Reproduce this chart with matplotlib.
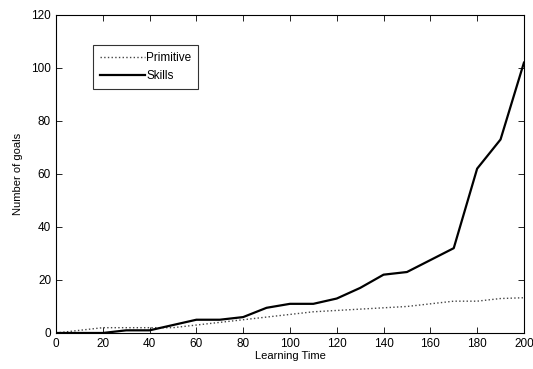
import numpy as np
import matplotlib.pyplot as plt

plt.rcParams['font.family'] = ['Liberation Sans', 'DejaVu Sans']

learning_time = np.arange(0, 201, 10)
primitive = [0, 1, 2, 2, 2, 2, 3, 4, 5, 6, 7, 8, 8.5, 9, 9.5, 10, 11, 12, 12, 13, 13.3]
skills = [0, 0, 0, 1, 1, 3, 5, 5, 6, 9.5, 11, 11, 13, 17, 22, 23, 27.5, 32, 62, 73, 102]

fig = plt.figure(figsize=(5.33, 3.69), dpi=100)
ax = fig.add_axes([0.105, 0.0976, 0.878, 0.862])

ax.plot(learning_time, primitive, linestyle=':', color='#444444', linewidth=1.0, label='Primitive')
ax.plot(learning_time, skills, linestyle='-', color='black', linewidth=1.6, label='Skills')

ax.set_xlim(0, 200)
ax.set_ylim(0, 120)
ax.set_xticks(np.arange(0, 201, 20))
ax.set_yticks(np.arange(0, 121, 20))
ax.tick_params(direction='in', top=True, right=True, labelsize=8.5, length=4, width=0.6)
for s in ax.spines.values():
    s.set_linewidth(0.8)

ax.set_xlabel('Learning Time', fontsize=8, labelpad=1)
ax.set_ylabel('Number of goals', fontsize=8, labelpad=6)

leg = ax.legend(loc='upper left', bbox_to_anchor=(0.079, 0.905), fontsize=8.5,
                frameon=True, fancybox=False, edgecolor='black', handlelength=3.8,
                borderpad=0.6, labelspacing=0.5, handletextpad=0.1, borderaxespad=0)
leg.get_frame().set_linewidth(0.8)

plt.savefig('out.png', dpi=100)
